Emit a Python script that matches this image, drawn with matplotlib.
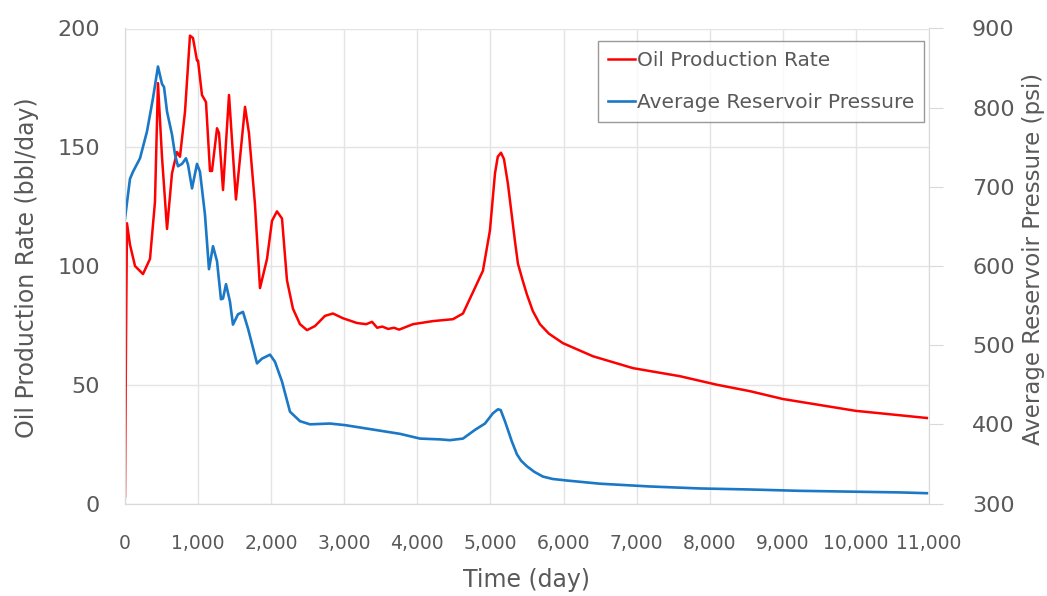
import matplotlib
matplotlib.use('Agg')
import matplotlib.pyplot as plt
from matplotlib.ticker import FuncFormatter, MultipleLocator

# Oil production rate (bbl/day) vs time (day)
oil_t = [0, 14, 27, 68, 137, 246, 342, 410, 451, 506, 575, 643, 711, 752, 821,
         889, 930, 985, 999, 1053, 1108, 1163, 1190, 1259, 1286, 1341, 1423,
         1518, 1642, 1696, 1778, 1847, 1943, 2011, 2079, 2148, 2216, 2298, 2394,
         2490, 2599, 2736, 2845, 2982, 3174, 3300, 3380, 3450, 3520, 3600, 3680,
         3750, 3940, 4213, 4487, 4624, 4761, 4897, 4993, 5062, 5100, 5144, 5185,
         5239, 5335, 5376, 5440, 5499, 5580, 5677, 5800, 5992, 6402, 6949, 7592,
         8099, 8550, 9000, 10000, 10328, 10971]
oil_rate = [3, 70, 118, 109, 100, 96.6, 103, 127, 177, 146, 115.6, 139, 148, 146,
            165, 197, 196, 186.5, 186.5, 172, 169, 140, 140, 158, 156, 132, 172,
            128, 167, 156, 126, 90.7, 103, 119, 123, 120, 94, 82, 75.5, 73, 74.7,
            79, 80, 78, 76, 75.5, 76.5, 74, 74.5, 73.5, 74, 73.2, 75.5, 76.8,
            77.6, 80, 89, 98, 115, 139, 146, 147.7, 145, 134.6, 110.5, 101, 94, 88,
            81, 75.5, 71.5, 67.5, 62, 57, 53.6, 50, 47.3, 44, 39, 38, 36]

# Average reservoir pressure (psi) vs time (day)
pres_t = [0, 68, 109, 205, 301, 383, 451, 506, 534, 575, 643, 684, 725, 780, 834,
          862, 917, 985, 1026, 1094, 1149, 1204, 1259, 1313, 1341, 1382, 1436,
          1477, 1546, 1614, 1683, 1806, 1874, 1984, 2052, 2148, 2257, 2394, 2531,
          2804, 3010, 3215, 3488, 3762, 4036, 4309, 4446, 4624, 4788, 4925, 5034,
          5075, 5103, 5140, 5198, 5294, 5363, 5420, 5499, 5600, 5718, 5850, 6047,
          6498, 7182, 7866, 8550, 9234, 10602, 10971]
pres = [660, 710, 719, 736, 770, 812, 852, 830, 826, 795, 766, 741, 726, 729, 736,
        728, 698, 729, 719, 665, 596, 625, 606, 558, 559, 577, 555, 526, 539, 542,
        521, 477, 483, 488, 479, 454, 416, 404, 400, 401, 399, 396, 392, 388, 382,
        381, 380, 382, 393, 401, 414, 417, 419, 418, 404, 378, 362, 354, 347, 340,
        334, 331, 329, 325, 321.5, 319, 317.7, 316, 314, 313]

text_color = '#595959'
grid_color = '#e4e4e4'
plt.rcParams['font.family'] = ['DejaVu Sans']

fig = plt.figure(figsize=(10.47, 5.96), dpi=100)
ax = fig.add_axes([125 / 1047, 1 - 503.5 / 596, 804 / 1047, 475 / 596])
ax2 = ax.twinx()

l1, = ax.plot(oil_t, oil_rate, color='#ff0000', lw=1.8, label='Oil Production Rate')
l2, = ax2.plot(pres_t, pres, color='#1a78c6', lw=1.9, label='Average Reservoir Pressure')

ax.set_xlim(0, 11000)
ax.set_ylim(0, 200)
ax2.set_ylim(300, 900)
ax.xaxis.set_major_locator(MultipleLocator(1000))
ax.xaxis.set_major_formatter(FuncFormatter(lambda v, p: f'{int(v):,}'))
ax.yaxis.set_major_locator(MultipleLocator(50))
ax2.yaxis.set_major_locator(MultipleLocator(100))

ax.grid(True, color=grid_color, lw=1)
ax.set_axisbelow(True)

for a in (ax, ax2):
    for s in a.spines.values():
        s.set_color('#d9d9d9')
    a.spines['top'].set_visible(False)
ax.spines['right'].set_visible(False)

ax.tick_params(axis='both', length=0, labelcolor=text_color)
ax.tick_params(axis='x', labelsize=13.5, pad=22)
ax.tick_params(axis='y', labelsize=16, pad=18)
ax2.tick_params(axis='y', length=10, color='#d9d9d9', labelsize=16,
                labelcolor=text_color, pad=21)

ax.set_xlabel('Time (day)', fontsize=17, color=text_color)
ax.set_ylabel('Oil Production Rate (bbl/day)', fontsize=17, color=text_color)
ax2.set_ylabel('Average Reservoir Pressure (psi)', fontsize=16.5, color=text_color)
ax.xaxis.set_label_coords(0.499, -0.161)
ax.yaxis.set_label_coords(-0.122, 0.497)
ax2.yaxis.set_label_coords(1.13, 0.515)
ax.xaxis.label.set_va('center')
ax.yaxis.label.set_va('center')
ax2.yaxis.label.set_va('center')

leg = ax2.legend(handles=[l1, l2], loc='upper left', bbox_to_anchor=(0.588, 0.974),
                 borderaxespad=0, fancybox=False, fontsize=14.5, handlelength=1.35,
                 handletextpad=0.1, labelspacing=1.15, borderpad=0.5)
leg.get_frame().set_edgecolor('#808080')
leg.get_frame().set_linewidth(1)
for t in leg.get_texts():
    t.set_color(text_color)

fig.savefig('out.png', dpi=100)
